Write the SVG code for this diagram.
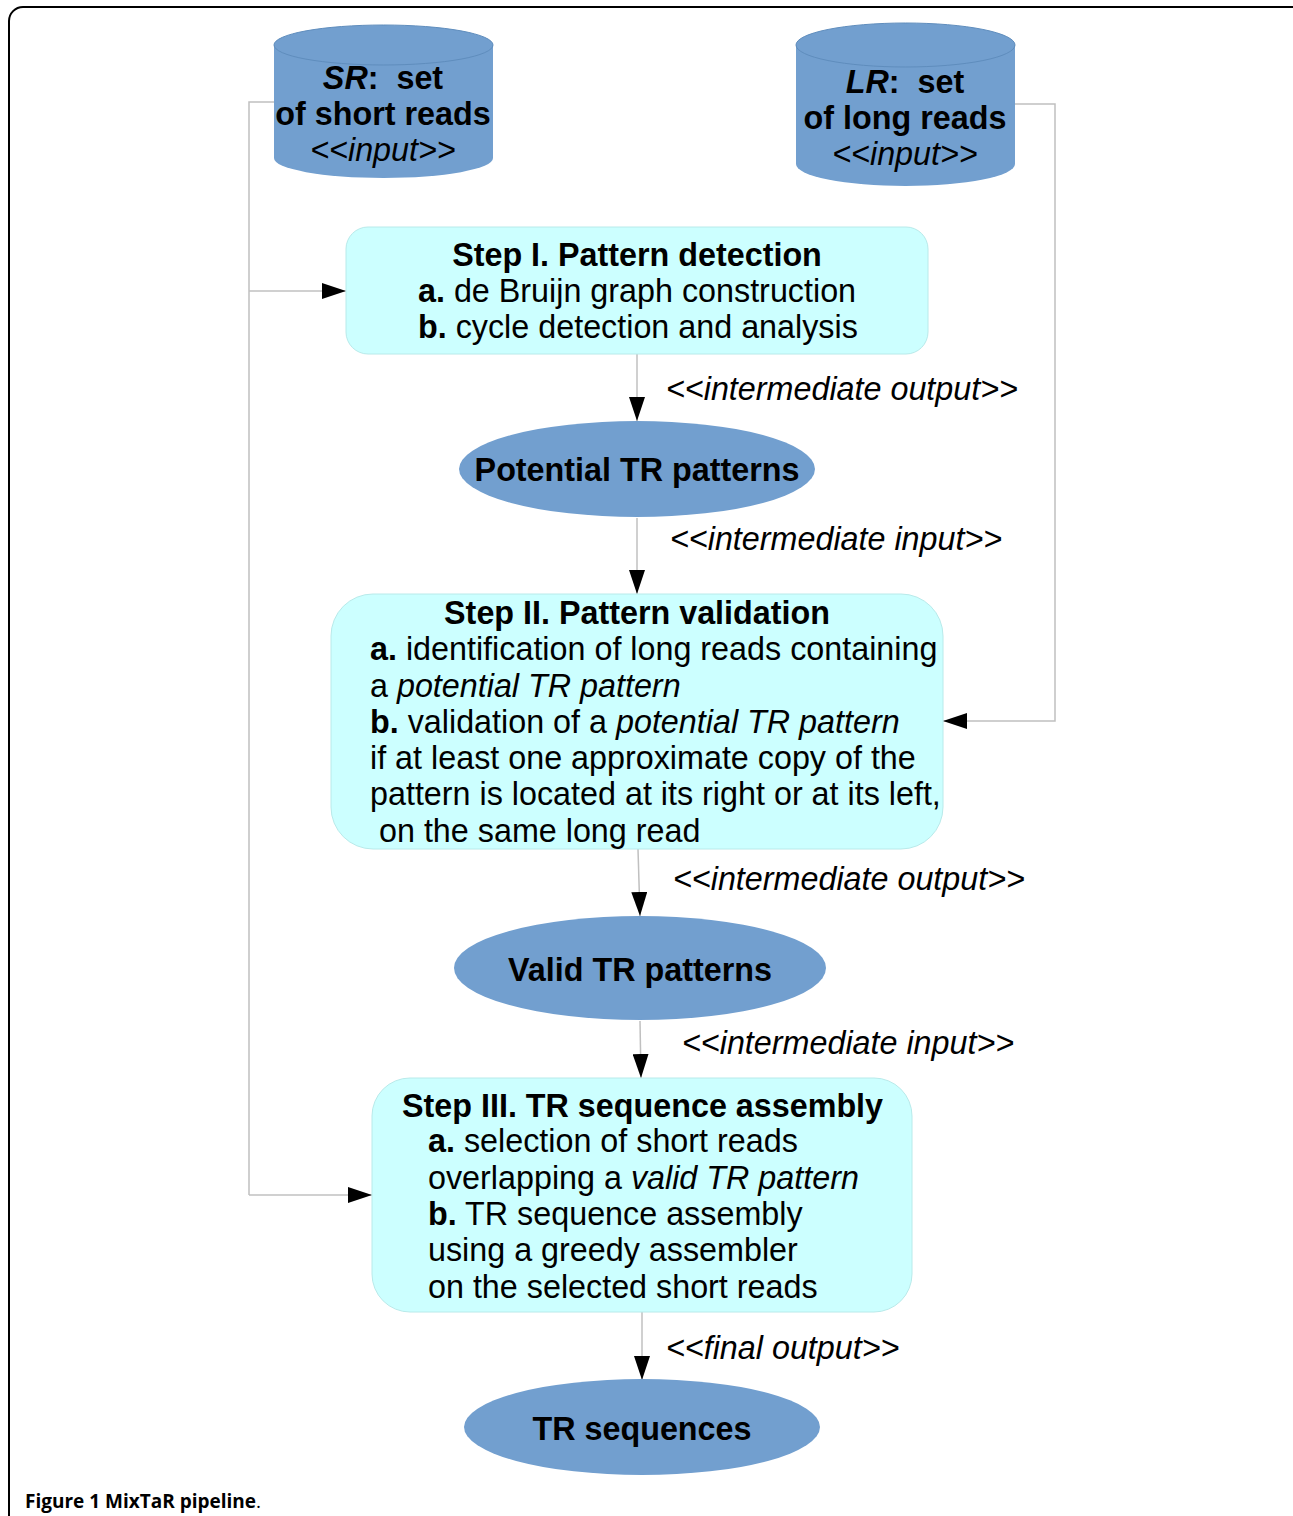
<svg xmlns="http://www.w3.org/2000/svg" width="1293" height="1516" viewBox="0 0 1293 1516">
<defs>
<marker id="ah" markerUnits="userSpaceOnUse" markerWidth="24" markerHeight="16" refX="24" refY="8" orient="auto">
<path d="M0,0 L24,8 L0,16 Z" fill="#000"/>
</marker>
<style>
text{font-family:"Liberation Sans",Arial,sans-serif;font-size:32.3px;fill:#000}
.b{font-weight:bold}
.i{font-style:italic}
.c{text-anchor:middle}
.pre{white-space:pre}
.blue{fill:#729fcf}
.cyl-top{fill:#729fcf;stroke:#5f8dbd;stroke-width:1}
.box{fill:#ccffff;stroke:#b8eaea;stroke-width:1}
.conn{fill:none;stroke:#c0c0c0;stroke-width:1.5}
.arr{fill:none;stroke:#c0c0c0;stroke-width:1.5;marker-end:url(#ah)}
.cap{font-family:"Open Sans","Noto Sans",sans-serif;font-size:19px;font-weight:bold}
</style>
</defs>
<rect x="9" y="7" width="1300" height="1540" rx="14" fill="#fff" stroke="#000" stroke-width="2"/>

<g id="connectors">
<path class="conn" d="M274,102 H249 V1195"/>
<path class="arr" d="M249,1195 H372"/>
<path class="arr" d="M249,291 H346"/>
<path class="arr" d="M1015,104 H1055 V721 H943"/>
<path class="arr" d="M637,354 V421"/>
<path class="arr" d="M637,518 V594"/>
<path class="arr" d="M638,849 L640,916"/>
<path class="arr" d="M640,1021 L641,1078"/>
<path class="arr" d="M642,1312 V1380"/>
</g>

<g id="sr">
<path class="blue" d="M274,45 V158 A109.5,20 0 0 0 493,158 V45 Z"/>
<ellipse class="cyl-top" cx="383.5" cy="45" rx="109.5" ry="20"/>
<text class="b c pre" x="383" y="89"><tspan class="i">SR</tspan>:  set</text>
<text class="b c" x="383" y="125">of short reads</text>
<text class="i c" x="383" y="161">&lt;&lt;input&gt;&gt;</text>
</g>

<g id="lr">
<path class="blue" d="M796,45 V164 A109.5,22 0 0 0 1015,164 V45 Z"/>
<ellipse class="cyl-top" cx="905.5" cy="45" rx="109.5" ry="22"/>
<text class="b c pre" x="905" y="93"><tspan class="i">LR</tspan>:  set</text>
<text class="b c" x="905" y="129">of long reads</text>
<text class="i c" x="905" y="165">&lt;&lt;input&gt;&gt;</text>
</g>

<g id="step1">
<rect class="box" x="346" y="227" width="582" height="127" rx="22"/>
<text class="b c" x="637" y="266">Step I. Pattern detection</text>
<text x="418" y="302"><tspan class="b">a.</tspan> de Bruijn graph construction</text>
<text x="418" y="338"><tspan class="b">b.</tspan> cycle detection and analysis</text>
</g>

<g id="potential">
<ellipse class="blue" cx="637" cy="469" rx="178" ry="48"/>
<text class="b c" x="637" y="481">Potential TR patterns</text>
</g>

<g id="step2">
<rect class="box" x="331" y="594" width="612" height="255" rx="42"/>
<text class="b c" x="637" y="624">Step II. Pattern validation</text>
<text x="370" y="660"><tspan class="b">a.</tspan> identification of long reads containing</text>
<text x="370" y="697">a <tspan class="i">potential TR pattern</tspan></text>
<text x="370" y="733"><tspan class="b">b.</tspan> validation of a <tspan class="i">potential TR pattern</tspan></text>
<text x="370" y="769">if at least one approximate copy of the</text>
<text x="370" y="805">pattern is located at its right or at its left,</text>
<text x="379" y="842">on the same long read</text>
</g>

<g id="valid">
<ellipse class="blue" cx="640" cy="968" rx="186" ry="52"/>
<text class="b c" x="640" y="981">Valid TR patterns</text>
</g>

<g id="step3">
<rect class="box" x="372" y="1078" width="540" height="234" rx="38"/>
<text class="b" x="402" y="1117">Step III. TR sequence assembly</text>
<text x="428" y="1152"><tspan class="b">a.</tspan> selection of short reads</text>
<text x="428" y="1189">overlapping a <tspan class="i">valid TR pattern</tspan></text>
<text x="428" y="1225"><tspan class="b">b.</tspan> TR sequence assembly</text>
<text x="428" y="1261">using a greedy assembler</text>
<text x="428" y="1298">on the selected short reads</text>
</g>

<g id="trseq">
<ellipse class="blue" cx="642" cy="1427" rx="178" ry="48"/>
<text class="b c" x="642" y="1440">TR sequences</text>
</g>

<g id="labels">
<text class="i" x="666" y="400">&lt;&lt;intermediate output&gt;&gt;</text>
<text class="i" x="670" y="550">&lt;&lt;intermediate input&gt;&gt;</text>
<text class="i" x="673" y="890">&lt;&lt;intermediate output&gt;&gt;</text>
<text class="i" x="682" y="1054">&lt;&lt;intermediate input&gt;&gt;</text>
<text class="i" x="666" y="1359">&lt;&lt;final output&gt;&gt;</text>
</g>

<text class="cap" x="25" y="1508">Figure 1 MixTaR pipeline<tspan font-weight="normal">.</tspan></text>
</svg>
